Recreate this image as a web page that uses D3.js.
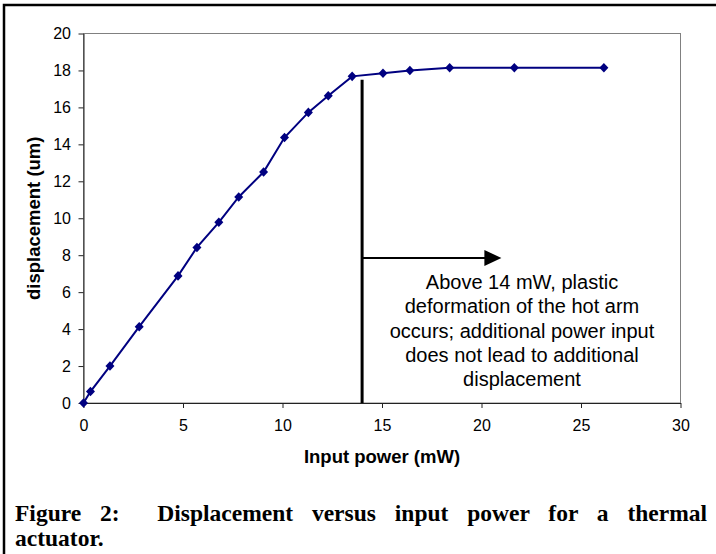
<!DOCTYPE html>
<html>
<head>
<meta charset="utf-8">
<script src="https://cdn.jsdelivr.net/npm/d3@7"></script>
<style>
  body { margin: 0; background: white; }
  #wrap { position: relative; width: 716px; height: 554px; overflow: hidden; }
  #caption {
    position: absolute; left: 15px; width: 692px; top: 501px;
    font-family: "Liberation Serif", "Times New Roman", serif;
    font-weight: bold; font-size: 23.5px; line-height: 25px;
  }
  #caption .l1 { text-align: justify; text-align-last: justify; white-space: pre; }
</style>
</head>
<body>
<div id="wrap">
  <svg id="chart" width="716" height="554"></svg>
  <div id="caption"></div>
</div>
<script>

// measured points
var power = [0, 0.35, 1.33, 2.8, 4.75, 5.7, 6.8, 7.8, 9.05, 10.1, 11.3, 12.3, 13.5, 15.05, 16.4, 18.4, 21.65, 26.15];
var displacement = [0, 0.62, 2.0, 4.13, 6.88, 8.42, 9.78, 11.15, 12.5, 14.37, 15.73, 16.63, 17.68, 17.85, 18.0, 18.15, 18.15, 18.15];

var x_ticks = [0, 5, 10, 15, 20, 25, 30];
var y_ticks = [0, 2, 4, 6, 8, 10, 12, 14, 16, 18, 20];

var note_lines = ['Above 14 mW, plastic', 'deformation of the hot arm',
                  'occurs; additional power input', 'does not lead to additional', 'displacement'];

var caption_lines = ['Figure 2:  Displacement versus input power for a thermal', 'actuator.'];

// marker line at 14 mW, arrow pointing right at ~7.85 um
var limit_x = 14, limit_top = 17.5;
var arrow = {x0: 14, x1: 21, y: 7.85};

var svg = d3.select('#chart');
var font = 'Liberation Sans, Arial, sans-serif';

// outer figure frame (top and left only, the rest is cropped)
svg.append('path')
   .attr('d', 'M4,554 L4,5 L716,5')
   .attr('fill', 'none')
   .attr('stroke', 'black')
   .attr('stroke-width', 2.5);

var x = d3.scaleLinear().domain([0, 30]).range([83.5, 680.5]);
var y = d3.scaleLinear().domain([0, 20]).range([403, 33.5]);

// plot area border
svg.append('rect')
   .attr('x', x(0)).attr('y', y(20))
   .attr('width', x(30) - x(0)).attr('height', y(0) - y(20))
   .attr('fill', 'white')
   .attr('stroke', '#808080')
   .attr('stroke-width', 1);

var xAxis = svg.append('g')
   .attr('transform', 'translate(0,' + y(0) + ')')
   .call(d3.axisBottom(x).tickValues(x_ticks).tickSize(5).tickPadding(12).tickSizeOuter(0));

var yAxis = svg.append('g')
   .attr('transform', 'translate(' + x(0) + ',0)')
   .call(d3.axisLeft(y).tickValues(y_ticks).tickSize(5).tickPadding(7.5).tickSizeOuter(0));

[xAxis, yAxis].forEach(a => {
  a.select('.domain').attr('stroke', '#222');
  a.selectAll('.tick line').attr('stroke', '#222');
  a.selectAll('text').attr('font-family', font).attr('font-size', 16).attr('fill', 'black');
});

svg.append('text')
   .attr('x', (x(0) + x(30)) / 2)
   .attr('y', 463)
   .attr('text-anchor', 'middle')
   .attr('font-family', font).attr('font-weight', 'bold').attr('font-size', 18.5)
   .text('Input power (mW)');

svg.append('text')
   .attr('transform', 'translate(40,' + ((y(0) + y(20)) / 2) + ') rotate(-90)')
   .attr('text-anchor', 'middle')
   .attr('font-family', font).attr('font-weight', 'bold').attr('font-size', 18.5)
   .text('displacement (um)');

// series
var pts = power.map((p, i) => ({p: p, d: displacement[i]}));

svg.append('path')
   .datum(pts)
   .attr('fill', 'none')
   .attr('stroke', '#000080')
   .attr('stroke-width', 2)
   .attr('d', d3.line().x(d => x(d.p)).y(d => y(d.d)));

svg.append('g')
   .selectAll('path')
   .data(pts)
   .enter()
   .append('path')
   .attr('transform', d => 'translate(' + x(d.p) + ',' + y(d.d) + ')')
   .attr('d', 'M0,-4.8 L4.5,0 L0,4.8 L-4.5,0 Z')
   .attr('fill', '#000080');

// annotation
svg.append('line')
   .attr('x1', x(limit_x)).attr('x2', x(limit_x))
   .attr('y1', y(limit_top)).attr('y2', y(0))
   .attr('stroke', 'black').attr('stroke-width', 3);

svg.append('line')
   .attr('x1', x(arrow.x0)).attr('x2', x(arrow.x1) - 15)
   .attr('y1', y(arrow.y)).attr('y2', y(arrow.y))
   .attr('stroke', 'black').attr('stroke-width', 2);

svg.append('path')
   .attr('transform', 'translate(' + x(arrow.x1) + ',' + y(arrow.y) + ')')
   .attr('d', 'M0,0 L-17,-8 L-17,8 Z')
   .attr('fill', 'black');

svg.append('g')
   .selectAll('text')
   .data(note_lines)
   .enter()
   .append('text')
   .attr('x', 522)
   .attr('y', (d, i) => 289 + i * 24.3)
   .attr('text-anchor', 'middle')
   .attr('font-family', font).attr('font-size', 20)
   .text(d => d);

// caption below the chart
d3.select('#caption')
  .selectAll('div')
  .data(caption_lines)
  .enter()
  .append('div')
  .attr('class', (d, i) => i == 0 ? 'l1' : 'l2')
  .text(d => d);

</script>
</body>
</html>
